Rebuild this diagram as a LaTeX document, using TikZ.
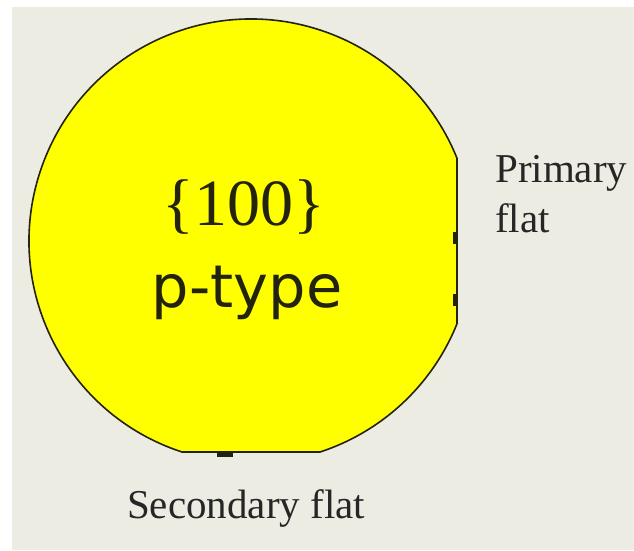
\documentclass[tikz,border=0pt]{standalone}
\usepackage{fontspec}
\setmainfont{Liberation Serif}
\newfontfamily\typefont{DejaVu Sans}
\usetikzlibrary{calc}
\definecolor{paper}{RGB}{237,236,226}
\definecolor{wafer}{RGB}{255,255,0}
\definecolor{rim}{RGB}{35,35,15}

\begin{document}
\begin{tikzpicture}[x=1pt, y=-1pt]
    \tikzstyle{disc}      = [fill=wafer, draw=rim, line width=1.6pt, line join=round]
    \tikzstyle{tick}      = [fill=rim, draw=none]
    \tikzstyle{flatlabel} = [anchor=base west, inner sep=0pt, align=left, text=black!85, font=\fontsize{41}{50}\selectfont]
    \tikzstyle{bigtext}   = [anchor=base, inner sep=0pt, text=rim]

    % page
    \useasboundingbox (0,0) rectangle (634,550);
    \fill[white] (0,0) rectangle (634,550);
    \fill[paper] (12,7) rectangle (634,550);

    % wafer with primary (right) and secondary (bottom) flat
    \coordinate (c) at (251,241);
    \draw[disc] ($(c)+(-21.9:222)$) -- ($(c)+(21.9:222)$)
        arc[start angle=21.9, end angle=71.9, radius=222]
        -- ($(c)+(108.1:222)$)
        arc[start angle=108.1, end angle=338.1, radius=222] -- cycle;

    % marks on the flats
    \fill[tick] (453,232) rectangle (458,244);
    \fill[tick] (453,294) rectangle (458,306);
    \fill[tick] (217,452) rectangle (233,457);

    \node (orient) [bigtext, font=\fontsize{66}{79}\selectfont] at (244,225) {\{100\}};
    \node (dopant) [bigtext, font=\typefont\fontsize{59}{70}\selectfont] at (247,307) {p-type};

    \node (primary)   [flatlabel] at (495,232) {Primary\\flat};
    \node (secondary) [flatlabel] at (127,518) {Secondary flat};
\end{tikzpicture}
\end{document}
